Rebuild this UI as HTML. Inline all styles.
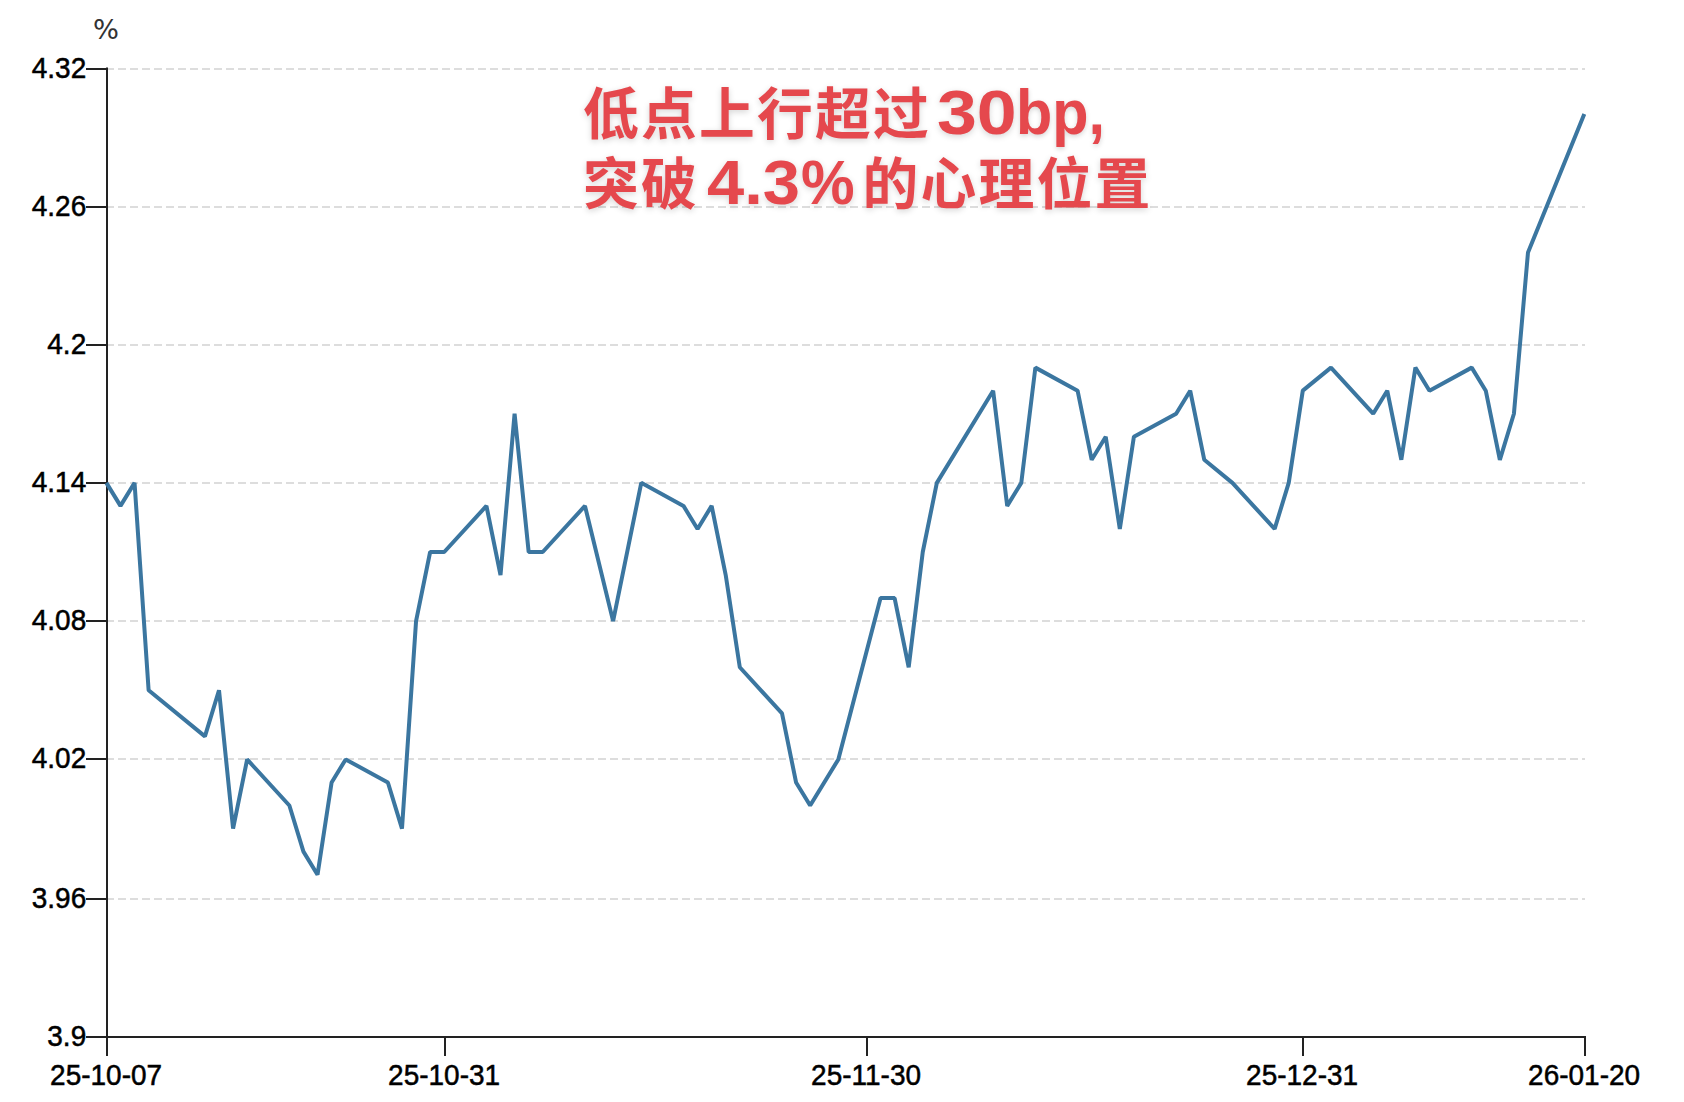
<!DOCTYPE html>
<html lang="zh-CN"><head><meta charset="utf-8"><title>chart</title>
<style>
html,body{margin:0;padding:0;background:#fff;}
body{width:1684px;height:1102px;overflow:hidden;position:relative;font-family:"Liberation Sans","Noto Sans CJK SC",sans-serif;}
svg{position:absolute;left:0;top:0;display:block}
svg text{font-family:"Liberation Sans","Noto Sans CJK SC",sans-serif;font-size:28px;fill:#000;stroke:#000;stroke-width:0.5px;}
.title{position:absolute;left:0;top:0;margin:0;font-size:55.8px;letter-spacing:2.2px;line-height:70px;font-weight:bold;color:#e5484d;white-space:nowrap;text-shadow:0 2px 6px rgba(0,0,0,.17);}
.title span{position:absolute;display:block;height:70px;line-height:70px;transform-origin:0 50%;}
.title .lat{font-size:62.5px;letter-spacing:0;transform:scaleX(1.03);}
</style></head><body>
<svg width="1684" height="1102" viewBox="0 0 1684 1102">
<g stroke="#dddddd" stroke-width="2" stroke-dasharray="8 4" fill="none"><line x1="106" x2="1585" y1="69" y2="69"/><line x1="106" x2="1585" y1="207" y2="207"/><line x1="106" x2="1585" y1="345" y2="345"/><line x1="106" x2="1585" y1="483" y2="483"/><line x1="106" x2="1585" y1="621" y2="621"/><line x1="106" x2="1585" y1="759" y2="759"/><line x1="106" x2="1585" y1="899" y2="899"/></g>

<g stroke="#222" stroke-width="2" fill="none">
<line x1="107" x2="107" y1="67.5" y2="1056"/>
<line x1="86" x2="1586" y1="1037" y2="1037"/>
<line x1="86" x2="107" y1="69" y2="69"/><line x1="86" x2="107" y1="207" y2="207"/><line x1="86" x2="107" y1="345" y2="345"/><line x1="86" x2="107" y1="483" y2="483"/><line x1="86" x2="107" y1="621" y2="621"/><line x1="86" x2="107" y1="759" y2="759"/><line x1="86" x2="107" y1="899" y2="899"/><line x1="86" x2="107" y1="1037" y2="1037"/><line x1="107" x2="107" y1="1037" y2="1056"/><line x1="445" x2="445" y1="1037" y2="1056"/><line x1="867" x2="867" y1="1037" y2="1056"/><line x1="1303" x2="1303" y1="1037" y2="1056"/><line x1="1585" x2="1585" y1="1037" y2="1056"/>
</g>
<polyline fill="none" stroke="#3b76a0" stroke-width="4" stroke-linejoin="bevel" points="106.40,482.86 120.48,505.90 134.55,482.86 148.63,690.29 204.93,736.38 219.00,690.29 233.08,828.57 247.15,759.43 289.38,805.52 303.45,851.62 317.53,874.67 331.60,782.48 345.68,759.43 387.90,782.48 401.98,828.57 416.06,621.14 430.13,552.00 444.21,552.00 486.43,505.90 500.51,575.05 514.58,413.71 528.66,552.00 542.73,552.00 584.96,505.90 613.11,621.14 641.26,482.86 683.48,505.90 697.56,528.95 711.64,505.90 725.71,575.05 739.79,667.24 782.01,713.33 796.09,782.48 810.16,805.52 838.31,759.43 880.54,598.10 894.61,598.10 908.69,667.24 922.76,552.00 936.84,482.86 993.14,390.67 1007.22,505.90 1021.29,482.86 1035.37,367.62 1077.59,390.67 1091.67,459.81 1105.74,436.76 1119.82,528.95 1133.89,436.76 1176.12,413.71 1190.19,390.67 1204.27,459.81 1232.42,482.86 1274.64,528.95 1288.72,482.86 1302.80,390.67 1330.95,367.62 1373.17,413.71 1387.25,390.67 1401.32,459.81 1415.40,367.62 1429.47,390.67 1471.70,367.62 1485.77,390.67 1499.85,459.81 1513.92,413.71 1528.00,252.38 1584.30,114.10"/>
<g><text transform="translate(86.2,78.00) scale(1,1.045)" text-anchor="end">4.32</text><text transform="translate(86.2,216.00) scale(1,1.045)" text-anchor="end">4.26</text><text transform="translate(86.2,354.00) scale(1,1.045)" text-anchor="end">4.2</text><text transform="translate(86.2,492.00) scale(1,1.045)" text-anchor="end">4.14</text><text transform="translate(86.2,630.00) scale(1,1.045)" text-anchor="end">4.08</text><text transform="translate(86.2,768.00) scale(1,1.045)" text-anchor="end">4.02</text><text transform="translate(86.2,908.00) scale(1,1.045)" text-anchor="end">3.96</text><text transform="translate(86.2,1046.00) scale(1,1.045)" text-anchor="end">3.9</text><text transform="translate(106.10,1084.5) scale(1,1.045)" text-anchor="middle">25-10-07</text><text transform="translate(444.10,1084.5) scale(1,1.045)" text-anchor="middle">25-10-31</text><text transform="translate(866.10,1084.5) scale(1,1.045)" text-anchor="middle">25-11-30</text><text transform="translate(1302.10,1084.5) scale(1,1.045)" text-anchor="middle">25-12-31</text><text transform="translate(1584.10,1084.5) scale(1,1.045)" text-anchor="middle">26-01-20</text><text transform="translate(105.9,38.7) scale(1.05,1.04)" text-anchor="middle" style="font-family:'DejaVu Sans','Liberation Sans',sans-serif;font-size:26px;fill:#333;stroke:none">%</text></g>
</svg>
<div class="title"><span id="r1" style="left:583px;top:80px">低点上行超过</span><span id="r2a" class="lat" style="left:936.8px;top:76.9px;font-size:63.5px;transform:scaleX(1.128)">30</span><span id="r2b" class="lat" style="left:1015.6px;top:77px;transform:scaleX(0.95)">bp,</span><span id="r3" style="left:583px;top:150px">突破</span><span id="r4a" class="lat" style="left:706.5px;top:147px;transform:scaleX(1.07)">4.3</span><span id="r4b" class="lat" style="left:800.6px;top:147px;transform:scaleX(0.965)">%</span><span id="r5" style="left:862.4px;top:150px">的心理位置</span></div>
</body></html>
